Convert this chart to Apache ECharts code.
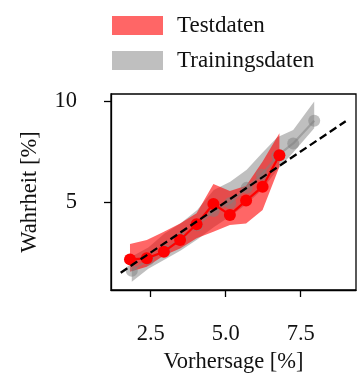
<!DOCTYPE html>
<html>
<head>
<meta charset="utf-8">
<script src="https://cdn.jsdelivr.net/npm/echarts@6/dist/echarts.min.js"></script>
<style>
  html, body { margin: 0; padding: 0; background: #fff; }
  #chart { width: 363px; height: 379px; }
</style>
</head>
<body>
<div id="chart"></div>
<script>
// Training data: binned prediction vs. truth, with spread band
const trainX     = [1.87, 2.42, 2.97, 3.50, 4.05, 4.60, 5.15, 5.70, 6.20, 6.72, 7.25, 7.95];
const trainY     = [1.60, 2.15, 2.60, 3.20, 3.85, 4.55, 4.95, 5.70, 6.35, 7.28, 7.90, 9.02];
const trainLower = [1.05, 1.70, 2.15, 2.60, 3.15, 3.75, 4.30, 4.90, 5.60, 6.60, 7.45, 8.65];
const trainUpper = [2.30, 2.75, 3.45, 3.95, 4.60, 5.60, 6.00, 6.60, 7.40, 8.20, 8.56, 9.97];

// Test data
const testX     = [1.81, 2.37, 2.94, 3.48, 4.03, 4.59, 5.14, 5.68, 6.23, 6.79];
const testY     = [2.16, 2.21, 2.54, 3.12, 3.90, 4.90, 4.36, 5.07, 5.76, 7.31];
const testLower = [1.55, 1.80, 2.35, 2.70, 3.20, 3.53, 3.86, 3.94, 4.60, 6.75];
const testUpper = [2.92, 3.12, 3.53, 3.94, 4.44, 5.89, 5.55, 5.80, 7.00, 8.40];

// Identity reference line
const diagX = [1.5, 9.0];

const xTicks = [2.5, 5.0, 7.5];
const yTicks = [5, 10];

const FONT = 'Liberation Serif';
const FS = 22.5;

function bandSeries(name, xs, lo, hi, color) {
  const data = xs.map((x, i) => [x, lo[i], hi[i]]);
  return {
    name: name,
    type: 'custom',
    itemStyle: { color: color },
    data: data,
    z: 1,
    renderItem: function (params, api) {
      if (params.dataIndex !== 0) return null;
      const top = data.map(d => api.coord([d[0], d[2]]));
      const bot = data.slice().reverse().map(d => api.coord([d[0], d[1]]));
      return {
        type: 'polygon',
        shape: { points: top.concat(bot) },
        style: { fill: color }
      };
    }
  };
}

const chart = echarts.init(document.getElementById('chart'), null, { renderer: 'canvas' });

chart.setOption({
  animation: false,
  backgroundColor: '#fff',
  textStyle: { fontFamily: FONT },
  grid: {
    left: 111, top: 94, width: 245, height: 196,
    show: true, borderColor: '#000', borderWidth: 1.3, backgroundColor: 'transparent'
  },
  legend: {
    orient: 'vertical',
    left: 107, top: 9,
    itemWidth: 51, itemHeight: 19, itemGap: 12,
    icon: 'rect',
    data: ['Testdaten', 'Trainingsdaten'],
    textStyle: { fontFamily: FONT, fontSize: 23, color: '#111', padding: [0, 0, 0, 9] }
  },
  xAxis: {
    type: 'value',
    min: 1.177, max: 9.343,
    name: 'Vorhersage [%]',
    nameLocation: 'middle', nameGap: 45,
    nameTextStyle: { fontFamily: FONT, fontSize: FS, color: '#111' },
    axisLine: { show: true, lineStyle: { color: '#000', width: 1.3 } },
    axisTick: { show: true, length: 7, lineStyle: { color: '#000', width: 1.3 }, customValues: xTicks },
    axisLabel: {
      customValues: xTicks, margin: 33,
      fontFamily: FONT, fontSize: FS, color: '#111',
      formatter: v => v.toFixed(1)
    },
    splitLine: { show: false }
  },
  yAxis: {
    type: 'value',
    min: 0.644, max: 10.347,
    name: 'Wahrheit [%]',
    nameLocation: 'middle', nameGap: 69,
    nameTextStyle: { fontFamily: FONT, fontSize: FS, color: '#111' },
    axisLine: { show: true, lineStyle: { color: '#000', width: 1.3 } },
    axisTick: { show: true, length: 7, lineStyle: { color: '#000', width: 1.3 }, customValues: yTicks },
    axisLabel: {
      customValues: yTicks, margin: 34,
      fontFamily: FONT, fontSize: FS, color: '#111',
      formatter: v => String(Math.round(v))
    },
    splitLine: { show: false }
  },
  series: [
    bandSeries('Trainingsdaten', trainX, trainLower, trainUpper, 'rgba(128,128,128,0.5)'),
    {
      name: 'Trainingsdaten-Linie',
      type: 'line',
      data: trainX.map((x, i) => [x, trainY[i]]),
      symbol: 'circle', symbolSize: 12,
      lineStyle: { color: 'rgba(128,128,128,0.5)', width: 2.2 },
      itemStyle: { color: 'rgba(128,128,128,0.5)' },
      z: 2
    },
    bandSeries('Testdaten', testX, testLower, testUpper, 'rgba(255,0,0,0.6)'),
    {
      name: 'Testdaten-Linie',
      type: 'line',
      data: testX.map((x, i) => [x, testY[i]]),
      symbol: 'circle', symbolSize: 12,
      lineStyle: { color: '#ff0000', width: 2.2 },
      itemStyle: { color: '#ff0000' },
      z: 4
    },
    {
      name: 'Diagonale',
      type: 'line',
      data: diagX.map(v => [v, v]),
      symbol: 'none',
      lineStyle: { color: '#000', width: 2.3, type: [8, 4] },
      z: 5
    }
  ]
});
</script>
</body>
</html>
